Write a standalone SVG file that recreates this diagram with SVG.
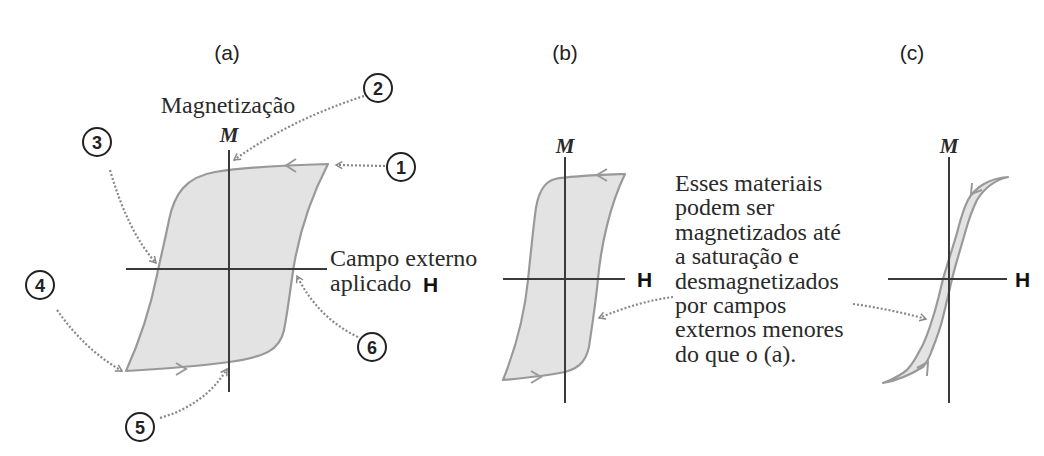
<svg xmlns="http://www.w3.org/2000/svg" width="1044" height="456" viewBox="0 0 1044 456">
<defs>
<marker id="dotArrow" viewBox="0 0 10 10" refX="8" refY="5" markerWidth="9" markerHeight="9" markerUnits="userSpaceOnUse" orient="auto">
<path d="M1,1 L8,5 L1,9" fill="none" stroke="#888" stroke-width="1.6"/>
</marker>
</defs>
<style>
.axis{stroke:#3a3a3a;stroke-width:2;fill:none}
.loop{fill:#e3e3e3;stroke:#999;stroke-width:2.2;stroke-linejoin:round}
.chev{fill:none;stroke:#999;stroke-width:2}
.dot{fill:none;stroke:#888;stroke-width:2.2;stroke-dasharray:2 2;marker-end:url(#dotArrow)}
.circ{fill:#fff;stroke:#222;stroke-width:2}
.num{font-family:"Liberation Sans",Arial,sans-serif;font-weight:bold;font-size:18px;fill:#222;text-anchor:middle}
.panel{font-family:"Liberation Sans",Arial,sans-serif;font-size:21px;fill:#222;text-anchor:middle}
.serif{font-family:"Liberation Serif","Times New Roman",serif;font-size:24px;fill:#2a2a2a}
.m{font-family:"Liberation Serif","Times New Roman",serif;font-size:21px;font-style:italic;font-weight:bold;fill:#2a2a2a;text-anchor:middle}
.h{font-family:"Liberation Sans",Arial,sans-serif;font-size:21px;font-weight:bold;fill:#111}
</style>
<rect width="1044" height="456" fill="#fff"/>

<g id="labels">
<text class="panel" x="227" y="60">(a)</text>
<text class="panel" x="565" y="60">(b)</text>
<text class="panel" x="912" y="60">(c)</text>
</g>

<g id="panel-a">
<path class="loop" d="M328,164 C290,165 240,168 215,172 C185,177 174,195 169,220 C164,245 160,260 157,275 C150,310 140,340 126,371 C160,369 200,366 229,362 C265,357 280,350 284,330 C288,310 290,290 294,265 C300,230 312,195 328,164 Z"/>
<path class="chev" d="M296,159 L286,165.5 L296,172"/>
<path class="chev" d="M176,363 L186,369 L176,375"/>
<line class="axis" x1="229" y1="150" x2="229" y2="392"/>
<line class="axis" x1="126" y1="269" x2="327" y2="269"/>
<text class="serif" x="228" y="113" text-anchor="middle">Magnetização</text>
<text class="m" x="229" y="142">M</text>
<text class="serif" x="330" y="266">Campo externo</text>
<text class="serif" x="330" y="291">aplicado</text>
<text class="h" x="423" y="292">H</text>
</g>

<g id="callout-1"><circle class="circ" cx="401" cy="167" r="14"/><text class="num" x="401" y="173.5">1</text></g>
<g id="callout-2"><circle class="circ" cx="378" cy="88" r="14"/><text class="num" x="378" y="94.5">2</text></g>
<g id="callout-3"><circle class="circ" cx="97" cy="142" r="14"/><text class="num" x="97" y="148.5">3</text></g>
<g id="callout-4"><circle class="circ" cx="40" cy="285" r="14"/><text class="num" x="40" y="291.5">4</text></g>
<g id="callout-5"><circle class="circ" cx="140" cy="427" r="14"/><text class="num" x="140" y="433.5">5</text></g>
<g id="callout-6"><circle class="circ" cx="372" cy="347" r="14"/><text class="num" x="372" y="353.5">6</text></g>

<g id="panel-b">
<path class="loop" d="M625,174 C600,175 570,176 555,179 C543,182 537,195 535,215 C532,240 530,260 528,280 C524,320 515,350 503,380 C525,378 545,376 565,372 C580,368 588,360 590,340 C593,320 596,300 598,279 C601,245 610,205 625,174 Z"/>
<path class="chev" d="M607,169 L597,175 L607,181"/>
<path class="chev" d="M531,371 L541,377 L531,383"/>
<line class="axis" x1="565" y1="157" x2="565" y2="403"/>
<line class="axis" x1="503" y1="279" x2="625" y2="279"/>
<text class="m" x="565" y="153">M</text>
<text class="h" x="637" y="287">H</text>
</g>

<g id="panel-c">
<path class="loop" d="M1008,177 C990,178 975,187 968,200 C962,212 960,222 957,233 C952,250 947,265 943,279 C939,295 937,305 933,317 C929,330 925,342 920,350 C914,362 908,370 903,373 C895,378 889,381 883,383 C895,381 910,375 923,367 C928,361 930,356 932,350 C936,340 940,330 943,317 C946,305 949,292 952,279 C956,263 961,247 965,233 C968,222 972,210 977,200 C985,187 995,180 1008,177 Z"/>
<path class="chev" d="M972,183 L971,194 L982,190"/>
<path class="chev" d="M917,368 L928,362 L927,376"/>
<line class="axis" x1="949" y1="157" x2="949" y2="403"/>
<line class="axis" x1="888" y1="279" x2="1007" y2="279"/>
<text class="m" x="949" y="153">M</text>
<text class="h" x="1015" y="287">H</text>
</g>

<g id="note">
<text class="serif" x="675" y="191">Esses materiais</text>
<text class="serif" x="675" y="215.4">podem ser</text>
<text class="serif" x="675" y="239.8">magnetizados até</text>
<text class="serif" x="675" y="264.2">a saturação e</text>
<text class="serif" x="675" y="288.6">desmagnetizados</text>
<text class="serif" x="675" y="313">por campos</text>
<text class="serif" x="675" y="337.4">externos menores</text>
<text class="serif" x="675" y="361.8">do que o (a).</text>
</g>

<g id="connectors">
<path class="dot" d="M385,166 L336,165"/>
<path class="dot" d="M364,96 Q290,120 234,160"/>
<path class="dot" d="M110,170 Q128,232 156,263"/>
<path class="dot" d="M57,310 Q85,350 122,371"/>
<path class="dot" d="M160,418 Q205,405 227,369"/>
<path class="dot" d="M358,337 Q318,318 297,276"/>
<path class="dot" d="M673,297 Q640,301 599,318"/>
<path class="dot" d="M853,304 Q890,309 926,319"/>
</g>
</svg>
